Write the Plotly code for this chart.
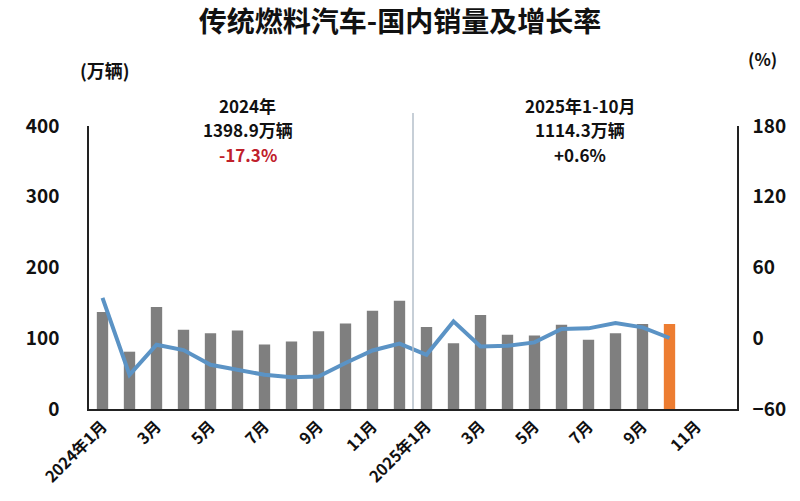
import plotly.graph_objects as go

months = [f"2024-{m:02d}" for m in range(1, 13)] + [f"2025-{m:02d}" for m in range(1, 13)]
sales = [137, 81, 144, 112, 107, 111, 91, 95.5, 110, 121, 139, 153,
         116, 93, 133, 105, 104, 119, 98, 107, 120, 120, None, None]
growth = [34.2, -31, -5.5, -10, -22.5, -27, -31, -33, -32.5, -21, -10.4, -4.5,
          -14, 14.3, -7, -6.4, -3.5, 7.8, 8.4, 13, 9.2, 0.2, None, None]
tick_vals = months[::2]
tick_text = ["2024年1月", "3月", "5月", "7月", "9月", "11月",
             "2025年1月", "3月", "5月", "7月", "9月", "11月"]
bar_colors = ["#7f7f7f"] * 21 + ["#ed7d31"] + ["#7f7f7f"] * 2

FONT = "Noto Sans CJK SC"

fig = go.Figure()
fig.add_trace(go.Bar(x=months, y=sales, marker=dict(color=bar_colors, line=dict(width=0)),
                     width=0.42, yaxis="y", showlegend=False))
fig.add_trace(go.Scatter(x=months, y=growth, mode="lines", yaxis="y2",
                         line=dict(color="#5b93c5", width=4), showlegend=False))

fig.add_shape(type="line", xref="x", yref="paper", x0=11.5, x1=11.5, y0=0, y1=1.046,
              line=dict(color="#b4bfca", width=1.5))

ann_font = dict(family=FONT, size=17, color="#111111", weight="bold")
anns = [
    dict(x=0.245, y=1.074, text="2024年"),
    dict(x=0.245, y=0.986, text="1398.9万辆"),
    dict(x=0.245, y=0.898, text="-17.3%", color="#c0202a"),
    dict(x=0.758, y=1.074, text="2025年1-10月"),
    dict(x=0.758, y=0.986, text="1114.3万辆"),
    dict(x=0.758, y=0.898, text="+0.6%"),
]
for a in anns:
    f = dict(ann_font)
    if "color" in a:
        f["color"] = a.pop("color")
    fig.add_annotation(xref="paper", yref="paper", showarrow=False, font=f,
                       xanchor="center", yanchor="middle", **a)

fig.add_annotation(xref="paper", yref="paper", x=0.024, y=1.198, text="(万辆)",
                   xanchor="center", yanchor="middle",
                   showarrow=False, font=dict(family=FONT, size=18, color="#111111", weight="bold"))
fig.add_annotation(xref="paper", yref="paper", x=1.039, y=1.24, text="(%)",
                   xanchor="center", yanchor="middle",
                   showarrow=False, font=dict(family=FONT, size=17, color="#111111", weight="bold"))

tick_font = dict(family=FONT, size=19, color="#111111", weight="bold")

fig.update_layout(
    width=800, height=501,
    margin=dict(l=89, r=63, t=126, b=92, autoexpand=False),
    paper_bgcolor="white", plot_bgcolor="white",
    title=dict(text="传统燃料汽车-国内销量及增长率", x=0.5, xanchor="center",
               y=1 - 22 / 501, yanchor="middle", automargin=False,
               font=dict(family=FONT, size=28, color="#111111", weight="bold")),
    bargap=0.5,
    xaxis=dict(type="category", categoryorder="array", categoryarray=months,
               tickmode="array", tickvals=tick_vals, ticktext=tick_text, tickangle=-45,
               tickfont=dict(family=FONT, size=16, color="#111111", weight="bold"),
               showline=True, linecolor="#222222", linewidth=1.5, showgrid=False,
               ticks="", range=[-0.5, 23.5], automargin=False),
    yaxis=dict(range=[0, 400], tickvals=[0, 100, 200, 300, 400], showgrid=False,
               showline=True, linecolor="#222222", linewidth=1.5, zeroline=False,
               tickfont=tick_font, ticks="", ticklabelstandoff=24, automargin=False),
    yaxis2=dict(range=[-60, 180], tickvals=[-60, 0, 60, 120, 180], overlaying="y",
                side="right", showgrid=False, showline=True, linecolor="#222222",
                linewidth=1.5, zeroline=False, ticks="", automargin=False,
                tickfont=tick_font, ticklabelstandoff=10),
)

fig.write_html("out.html", config={"displayModeBar": False},
               post_script="document.body.style.margin='0';")
